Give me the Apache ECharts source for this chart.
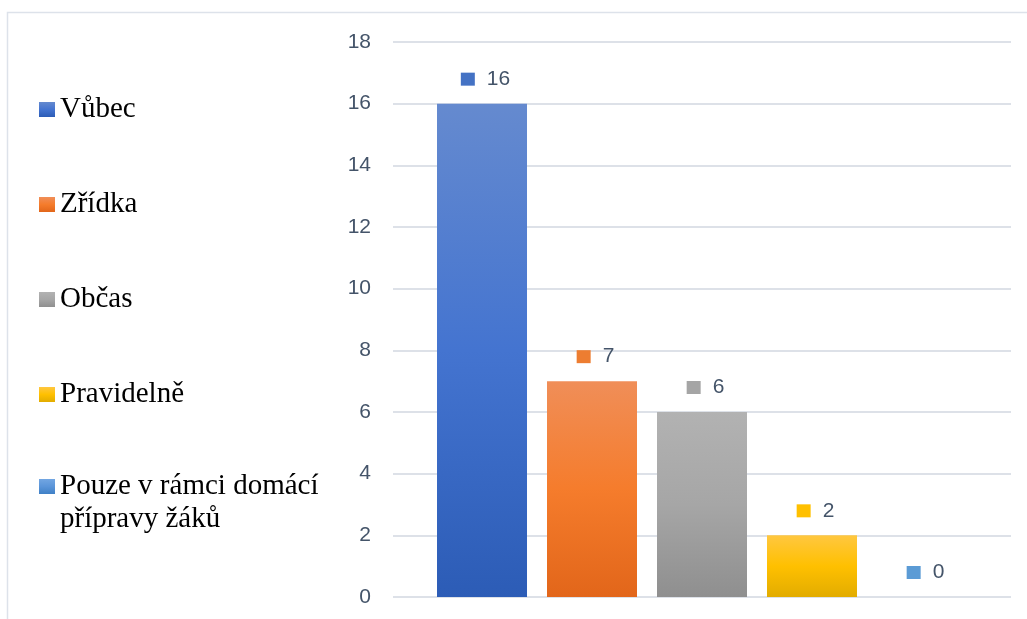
<!DOCTYPE html>
<html>
<head>
<meta charset="utf-8">
<script src="https://cdn.jsdelivr.net/npm/echarts@6/dist/echarts.min.js"></script>
<style>
html,body{margin:0;padding:0;background:#fff;}
#c{width:1027px;height:619px;}
</style>
</head>
<body>
<div id="c"></div>
<script>
const categories = [''];
const seriesNames = ['Vůbec', 'Zřídka', 'Občas', 'Pravidelně', 'Pouze v rámci domácí\npřípravy žáků'];
const seriesValues = [16, 7, 6, 2, 0];
const yTicks = { min: 0, max: 18, interval: 2 };

const gradients = [
  ['#658acf', '#4474d0', '#2c5cb6'],
  ['#f08e58', '#f57c2c', '#e2661a'],
  ['#b2b2b2', '#a6a6a6', '#8f8f8f'],
  ['#ffc740', '#ffc000', '#e2ac00'],
  ['#72a6e2', '#5b95d9', '#3f80c6']
];
const solid = ['#4472c4', '#ed7d31', '#a5a5a5', '#ffc000', '#5b9bd5'];

function grad(c) {
  return new echarts.graphic.LinearGradient(0, 0, 0, 1, [
    { offset: 0, color: c[0] }, { offset: 0.5, color: c[1] }, { offset: 1, color: c[2] }
  ]);
}

const chart = echarts.init(document.getElementById('c'));
const series = seriesNames.map((name, i) => ({
  name: name,
  type: 'bar',
  data: [seriesValues[i]],
  barWidth: 90,
  barGap: '22.22%',
  itemStyle: { color: grad(gradients[i]) },
  label: {
    show: true,
    position: 'top',
    distance: 14,
    offset: [3.5, 0],
    formatter: '{sq|}{g|}{v|{c}}',
    rich: {
      sq: { width: 14, height: 13, backgroundColor: solid[i] },
      g: { width: 12 },
      v: { fontFamily: 'Liberation Sans', fontSize: 21, color: '#445469' }
    }
  }
}));

const legendText = { fontFamily: 'Liberation Serif', fontSize: 29, color: '#000', lineHeight: 33 };

chart.setOption({
  backgroundColor: '#fff',
  animation: false,
  graphic: [{
    type: 'rect',
    shape: { x: 7.5, y: 12.5, width: 1100, height: 700 },
    style: { fill: 'none', stroke: '#dde2ea', lineWidth: 1.5 },
    silent: true
  }],
  legend: [{
    orient: 'vertical',
    left: 39,
    top: 93,
    padding: 0,
    itemWidth: 16,
    itemHeight: 15,
    itemGap: 62,
    icon: 'rect',
    data: seriesNames.slice(0, 4),
    textStyle: legendText
  }, {
    orient: 'vertical',
    left: 39,
    top: 437,
    padding: 0,
    itemWidth: 16,
    itemHeight: 15,
    icon: 'rect',
    data: seriesNames.slice(4),
    formatter: function (name) { return ' \n' + name; },
    textStyle: legendText
  }],
  grid: { left: 393, right: 16, top: 42, bottom: 22, containLabel: false },
  xAxis: {
    type: 'category',
    data: categories,
    axisLine: { show: false },
    axisTick: { show: false },
    axisLabel: { show: false }
  },
  yAxis: {
    type: 'value',
    min: yTicks.min,
    max: yTicks.max,
    interval: yTicks.interval,
    axisLine: { show: false },
    axisTick: { show: false },
    axisLabel: { fontFamily: 'Liberation Sans', fontSize: 21, color: '#445469', margin: 22 },
    splitLine: { lineStyle: { color: '#dde1e8', width: 2 } }
  },
  series: series
});
</script>
</body>
</html>
